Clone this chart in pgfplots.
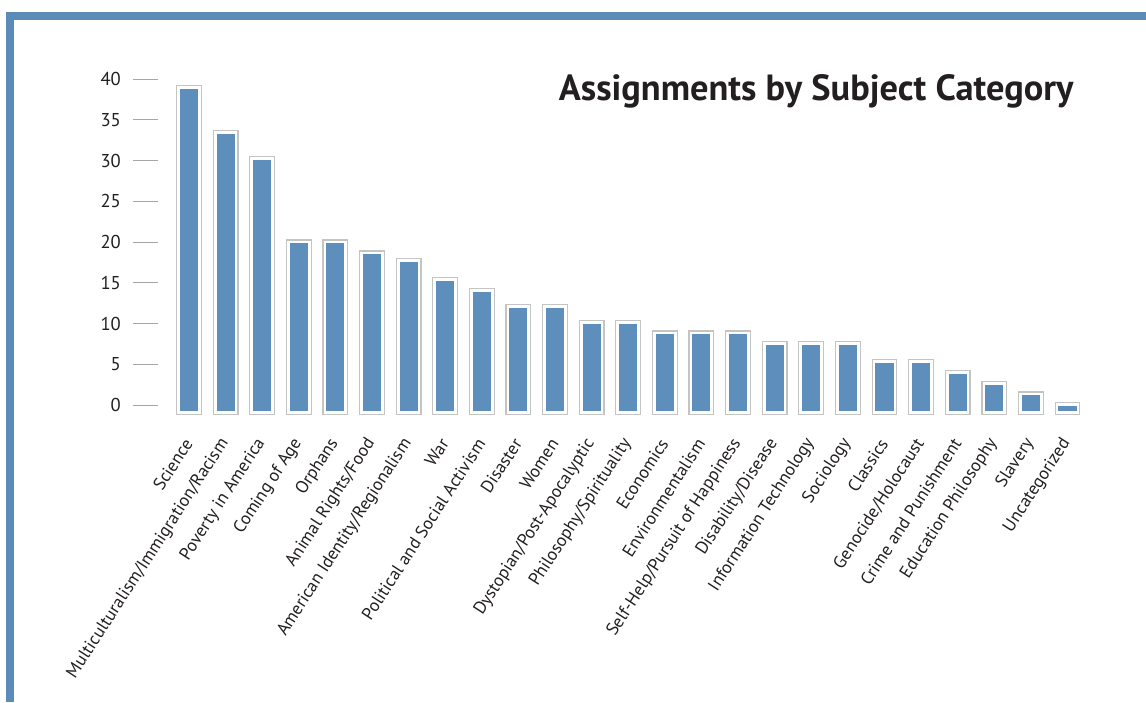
\documentclass[border=0pt]{standalone}
\usepackage{pgfplots}
\pgfplotsset{compat=1.18}
\usepackage{pgfplotstable}
\usepackage{fontspec}
\setmainfont{PT Sans}
\definecolor{barblue}{HTML}{5E8FBC}
\definecolor{frameblue}{HTML}{5B8BB9}
\definecolor{framegray}{HTML}{C4C4C4}
\definecolor{txt}{HTML}{231F20}
\pgfplotstableread{
i v
0 38.96
1 33.40
2 30.20
3 20.00
4 20.00
5 18.65
6 17.71
7 15.37
8 14.07
9 12.11
10 12.11
11 10.15
12 10.15
13 8.83
14 8.83
15 8.83
16 7.58
17 7.58
18 7.58
19 5.30
20 5.30
21 3.99
22 2.66
23 1.35
24 0.04
}\datatable
\begin{document}
\begin{tikzpicture}
\useasboundingbox (0,0) rectangle (573pt,351pt);
\fill[frameblue] (3pt,341pt) rectangle (573pt,345pt);
\fill[frameblue] (3pt,0pt) rectangle (7pt,345pt);
\begin{axis}[
  at={(78.95pt,143.85pt)}, anchor=south west,
  scale only axis, width=462.1pt, height=175.2pt,
  xmin=-0.85, xmax=24.4, ymin=0, ymax=43,
  axis line style={draw=none},
  clip=false,
  xtick=data,
  xticklabels={Science,Multiculturalism/Immigration/Racism,Poverty in America,Coming of Age,Orphans,Animal Rights/Food,American Identity/Regionalism,War,Political and Social Activism,Disaster,Women,Dystopian/Post-Apocalyptic,Philosophy/Spirituality,Economics,Environmentalism,Self-Help/Pursuit of Happiness,Disability/Disease,Information Technology,Sociology,Classics,Genocide/Holocaust,Crime and Punishment,Education Philosophy,Slavery,Uncategorized},
  x tick style={draw=none},
  xticklabel style={rotate=57, anchor=east, font=\fontsize{8.8}{10}\selectfont, text=txt, inner sep=0.5pt},
  ytick={1.14,6.14,11.14,16.14,21.14,26.14,31.14,36.14,41.14},
  yticklabels={0,5,10,15,20,25,30,35,40},
  ytick pos=left,
  tick align=outside,
  major tick length=12.5pt,
  y tick style={draw=gray!70, line width=0.5pt},
  yticklabel style={font=\fontsize{9.3}{11}\selectfont, text=txt, xshift=-2.5pt},
  y filter/.expression={y+1.39},
]
\addplot[ybar, bar width=0.675, bar shift=0pt, fill=barblue, draw=white, line width=3.3pt] table[x=i,y=v]{\datatable};
\addplot[ybar, bar width=0.675, bar shift=0pt, fill=none, draw=framegray, line width=0.6pt] table[x=i,y=v]{\datatable};
\end{axis}
\node[anchor=east, inner sep=0pt, font=\bfseries\fontsize{18.2}{20}\selectfont, text=txt] at (537pt,305.5pt) {Assignments by Subject Category};
\end{tikzpicture}
\end{document}
